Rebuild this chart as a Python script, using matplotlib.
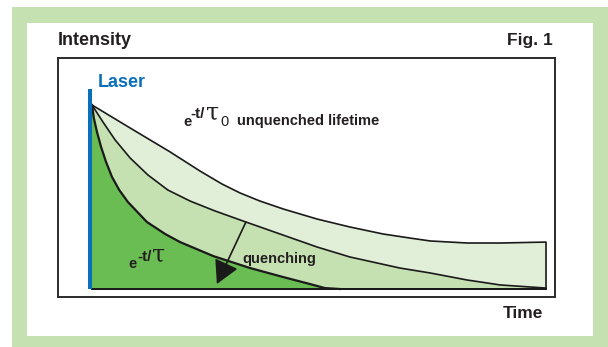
import matplotlib
matplotlib.use("Agg")
import matplotlib.pyplot as plt
from matplotlib.patches import Rectangle, Polygon
import numpy as np

# ---- data (time in arbitrary units 0..10, intensity normalised to 1 at t=0) ----
unquenched_t = [0.00, 0.84, 1.72, 2.38, 2.86, 3.26, 3.70, 4.21, 4.96, 5.68, 6.41, 7.00, 7.45, 8.26, 8.99, 10.0]
unquenched_I = [1.000, 0.875, 0.745, 0.641, 0.571, 0.522, 0.478, 0.435, 0.380, 0.337, 0.299, 0.277, 0.261, 0.250, 0.250, 0.255]

partial_t = [0.00, 0.24, 0.51, 0.84, 1.23, 1.67, 2.16, 2.71, 3.39, 4.14, 4.96, 5.68, 6.78, 7.45, 8.26, 8.99, 10.0]
partial_I = [1.000, 0.908, 0.810, 0.712, 0.620, 0.538, 0.478, 0.424, 0.364, 0.299, 0.228, 0.174, 0.114, 0.087, 0.049, 0.022, 0.005]

quenched_t = [0.00, 0.04, 0.11, 0.20, 0.31, 0.44, 0.60, 0.79, 1.21, 1.61, 1.94, 2.67, 3.48, 4.21, 4.80, 5.13, 5.46]
quenched_I = [1.000, 0.929, 0.853, 0.772, 0.690, 0.609, 0.538, 0.473, 0.364, 0.299, 0.255, 0.179, 0.114, 0.065, 0.027, 0.005, 0.000]

laser_t = -0.04
laser_top = 1.087

arrow_start = (3.39, 0.364)
arrow_end = (2.75, 0.027)

# ---- styles ----
W, H = 608, 347
TXT = "#231f20"
FRAME = "#c6e1b1"
C_LIGHT = "#e2efd8"
C_MED = "#c6e1b1"
C_DARK = "#6abd53"
BLUE = "#0a6fba"

plt.rcParams['font.family'] = ['Liberation Sans', 'DejaVu Sans']

fig = plt.figure(figsize=(W / 100, H / 100), dpi=100)
fig.patch.set_facecolor("white")

def fx(x):
    return x / W

def fy(y):
    return 1 - y / H

# frame
fig.patches.append(Rectangle((fx(12), fy(347)), fx(608) - fx(12), fy(7) - fy(347),
                             transform=fig.transFigure, facecolor=FRAME, edgecolor='none', zorder=-5))
fig.patches.append(Rectangle((fx(27), fy(336)), fx(593) - fx(27), fy(23) - fy(336),
                             transform=fig.transFigure, facecolor='white', edgecolor='none', zorder=-4))

# plot box axes
ax = fig.add_axes([fx(58), fy(297), fx(555) - fx(58), fy(58) - fy(297)])
ax.set_zorder(1)
ax.set_xlim(-0.749, 10.198)
ax.set_ylim(-0.0435, 1.2554)
ax.set_xticks([])
ax.set_yticks([])
for s in ax.spines.values():
    s.set_color("#2b2b2b")
    s.set_linewidth(1.4)
ax.set_facecolor("white")

def region(t, I):
    xs = list(t) + [t[-1], t[0]]
    ys = list(I) + [0.0, 0.0]
    return np.column_stack([xs, ys])

ax.add_patch(Polygon(region(unquenched_t, unquenched_I), closed=True,
                     facecolor=C_LIGHT, edgecolor='#1a1a1a', linewidth=1.2, joinstyle='round', zorder=2))
ax.add_patch(Polygon(region(partial_t, partial_I), closed=True,
                     facecolor=C_MED, edgecolor='#1a1a1a', linewidth=1.2, joinstyle='round', zorder=3))
ax.add_patch(Polygon(region(quenched_t, quenched_I), closed=True,
                     facecolor=C_DARK, edgecolor='none', zorder=4))
ax.plot(quenched_t, quenched_I, color='#1a1a1a', lw=1.6, solid_joinstyle='round', zorder=5)
ax.plot([0, 10.0], [0, 0], color='#1a1a1a', lw=1.4, zorder=5)

# laser pulse
ax.plot([laser_t, laser_t], [0, laser_top], color=BLUE, lw=2.9, solid_capstyle='butt', zorder=6)

# quenching arrow
ax.annotate("", xy=arrow_end, xytext=arrow_start,
            arrowprops=dict(arrowstyle='-|>,head_length=1.1,head_width=0.6',
                            mutation_scale=13, color='#1a1a1a', lw=1.2,
                            shrinkA=0, shrinkB=0), zorder=7)

# texts
def t(x, y, s, **kw):
    kw.setdefault('color', TXT)
    kw.setdefault('fontweight', 'bold')
    kw.setdefault('va', 'baseline')
    fig.text(fx(x), fy(y), s, zorder=10, **kw)

t(58, 45, "Intensity", fontsize=13)
t(553, 45, "Fig. 1", fontsize=12.5, ha='right')
t(543, 318, "Time", fontsize=12.5, ha='right')
t(98, 87, "Laser", fontsize=13, color=BLUE)

# e^{-t/tau0} unquenched lifetime
t(183, 126, "e", fontsize=10.5)
t(190, 118, "-t/", fontsize=11)
t(206, 119, "τ", fontsize=17, fontweight='normal', family=['DejaVu Serif'])
t(220, 126, "0", fontsize=10.5, fontweight='normal')
t(237, 125, "unquenched lifetime", fontsize=10.5)

# e^{-t/tau}
t(128, 268, "e", fontsize=10.5)
t(137, 261, "-t/", fontsize=11)
t(152, 262, "τ", fontsize=17, fontweight='normal', family=['DejaVu Serif'])
t(242, 263, "quenching", fontsize=10.5)

fig.savefig("out.png", dpi=100)
